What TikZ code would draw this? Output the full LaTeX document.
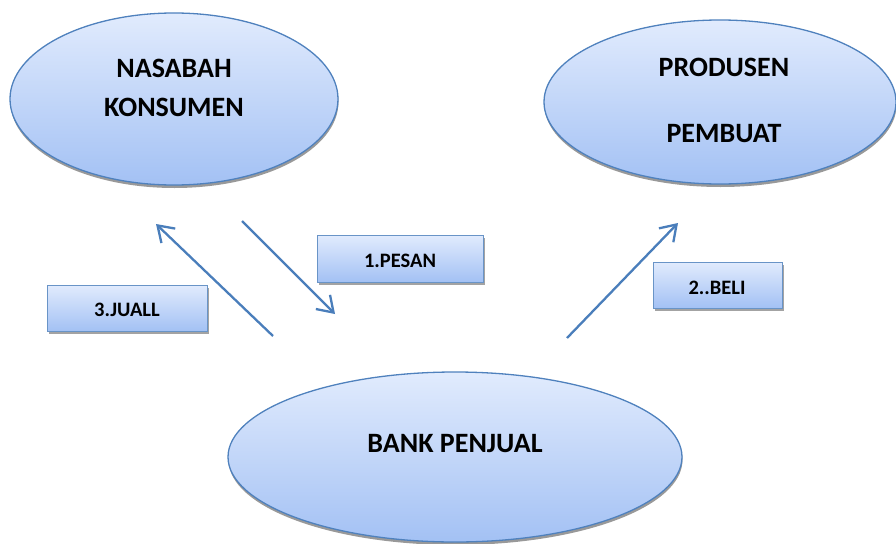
\documentclass[tikz,border=0pt]{standalone}
\usepackage{fontspec}
\setmainfont{Carlito}
\usetikzlibrary{shapes.geometric,shadows,arrows.meta}
\definecolor{edgeblue}{HTML}{4F81BD}
\definecolor{arrowblue}{HTML}{4A7EBB}
\definecolor{topfill}{HTML}{E1EBFD}
\definecolor{botfill}{HTML}{A3C1F4}
\tikzset{
  bubble/.style={ellipse, draw=edgeblue, line width=1.3pt, top color=topfill, bottom color=botfill,
    drop shadow={shadow xshift=0.5pt, shadow yshift=-3pt, fill=black!50, opacity=0.8}, inner sep=0pt},
  tag/.style={rectangle, draw=edgeblue!85, line width=1pt, top color=topfill, bottom color=botfill,
    drop shadow={shadow xshift=2pt, shadow yshift=-3pt, fill=black!45, opacity=0.8}, inner sep=0pt},
  bigtext/.style={font=\bfseries\fontsize{28}{39}\selectfont, align=center, inner sep=0pt},
  smalltext/.style={font=\bfseries\fontsize{20.5}{24}\selectfont, inner sep=0pt},
  flow/.style={draw=arrowblue, line width=2.3pt, -{Straight Barb[length=15pt,width=20pt,line width=2.3pt]}}
}
\begin{document}
\begin{tikzpicture}[x=1pt,y=-1pt]
\path[use as bounding box] (0,0) rectangle (896,543);
% ellipses
\node[bubble, minimum width=328pt, minimum height=172pt] (nasabah) at (174,99) {};
\node[bubble, minimum width=352pt, minimum height=164pt] (produsen) at (720,102) {};
\node[bubble, minimum width=454pt, minimum height=170pt] (bank) at (455,457) {};
% ellipse texts
\node[bigtext] (tnasabah) at (174,88) {NASABAH\\KONSUMEN};
\node[bigtext, font=\bfseries\fontsize{28}{66}\selectfont] (tprodusen) at (724,100) {PRODUSEN\\PEMBUAT};
\node[bigtext] (tbank) at (455,444) {BANK PENJUAL};
% label boxes
\node[tag, minimum width=166pt, minimum height=47pt] (pesan) at (400,258.5) {};
\node[smalltext] (tpesan) at (400,261) {1.PESAN};
\node[tag, minimum width=160pt, minimum height=46pt] (juall) at (127,308) {};
\node[smalltext] (tjuall) at (127,310) {3.JUALL};
\node[tag, minimum width=129pt, minimum height=46pt] (beli) at (717.5,285) {};
\node[smalltext] (tbeli) at (717,288) {2..BELI};
% arrow end points
\coordinate (jualS) at (273,336);
\coordinate (jualE) at (156,224);
\coordinate (pesanS) at (242,221);
\coordinate (pesanE) at (335,314);
\coordinate (beliS) at (567,338);
\coordinate (beliE) at (678,223);
\draw[flow] (jualS) -- (jualE);
\draw[flow] (pesanS) -- (pesanE);
\draw[flow] (beliS) -- (beliE);
\end{tikzpicture}
\end{document}
